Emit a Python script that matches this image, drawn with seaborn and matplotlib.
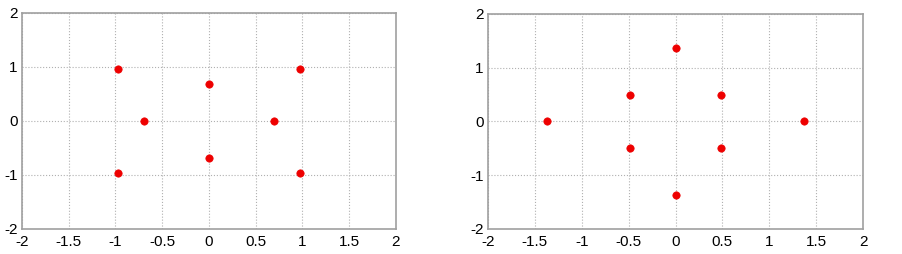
import numpy as np
import pandas as pd
import matplotlib.pyplot as plt
import seaborn as sns

# constellation points
left_x = [-0.97, 0.97, -0.97, 0.97, 0.0, 0.0, -0.69, 0.69]
left_y = [0.97, 0.97, -0.97, -0.97, 0.69, -0.69, 0.0, 0.0]

right_x = [0.0, 0.0, -1.37, 1.37, -0.49, 0.49, -0.49, 0.49]
right_y = [1.37, -1.37, 0.0, 0.0, 0.49, 0.49, -0.49, -0.49]

ticks_x = [-2, -1.5, -1, -0.5, 0, 0.5, 1, 1.5, 2]
ticks_y = [-2, -1, 0, 1, 2]
tick_labels_x = ['-2', '-1.5', '-1', '-0.5', '0', '0.5', '1', '1.5', '2']
tick_labels_y = ['-2', '-1', '0', '1', '2']

sns.set_style("white")
plt.rcParams['font.family'] = ['Liberation Sans', 'DejaVu Sans']

fig = plt.figure(figsize=(9.03, 2.54), dpi=100)
ax1 = fig.add_axes([22 / 903, 1 - 229 / 254, 374 / 903, 216 / 254])
ax2 = fig.add_axes([488 / 903, 1 - 229 / 254, 375 / 903, 215 / 254])


def draw_panel(ax, xs, ys):
    df = pd.DataFrame({'x': xs, 'y': ys})
    sns.scatterplot(data=df, x='x', y='y', ax=ax, color='#ee0000',
                    marker='o', s=28, edgecolor='#ee0000', linewidth=0.5,
                    zorder=3)
    ax.set_xlim(-2, 2)
    ax.set_ylim(-2, 2)
    ax.set_xticks(ticks_x)
    ax.set_xticklabels(tick_labels_x)
    ax.set_yticks(ticks_y)
    ax.set_yticklabels(tick_labels_y)
    ax.set_xlabel('')
    ax.set_ylabel('')
    ax.grid(True, linestyle=':', color='#b0b0b0', linewidth=0.8)
    ax.tick_params(direction='in', length=3, color='#a0a0a0', labelsize=11,
                   labelcolor='black')
    ax.tick_params(axis='x', pad=4)
    ax.tick_params(axis='y', pad=3)
    for sp in ax.spines.values():
        sp.set_color('#a0a0a0')
        sp.set_linewidth(1.2)


draw_panel(ax1, left_x, left_y)
draw_panel(ax2, right_x, right_y)

fig.savefig('out.png', dpi=100)
